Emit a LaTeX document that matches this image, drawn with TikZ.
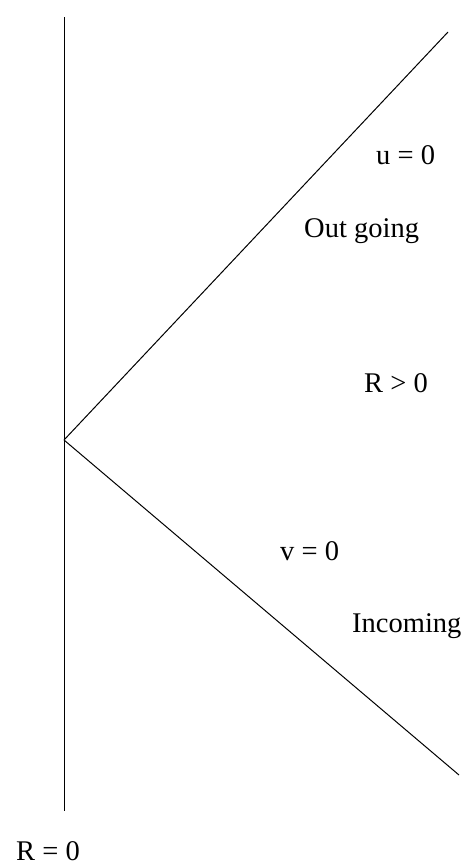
\documentclass[tikz,border=0pt]{standalone}
\usepackage{fontspec}
\setmainfont{Liberation Serif}
\begin{document}
\begin{tikzpicture}[x=1pt,y=-1pt,
  lbl/.style={anchor=base west,inner sep=0pt,font=\fontsize{28.5}{34}\selectfont},
  ln/.style={line width=1pt,black}]
\useasboundingbox (0,0) rectangle (466,868);
\coordinate (top) at (64,17);
\coordinate (bot) at (64,811);
\coordinate (vx) at (64,440);
\coordinate (ur) at (448,32);
\coordinate (lr) at (459,775);
\draw[ln] (top) -- (bot);
\draw[ln] (vx) -- (ur);
\draw[ln] (vx) -- (lr);
\node[lbl] (u) at (376,164) {u = 0};
\node[lbl] (og) at (304,237) {Out going};
\node[lbl] (rp) at (364,392) {R > 0};
\node[lbl] (v) at (280,560) {v = 0};
\node[lbl] (in) at (352,632) {Incoming};
\node[lbl] (r0) at (16,860) {R = 0};
\end{tikzpicture}
\end{document}
